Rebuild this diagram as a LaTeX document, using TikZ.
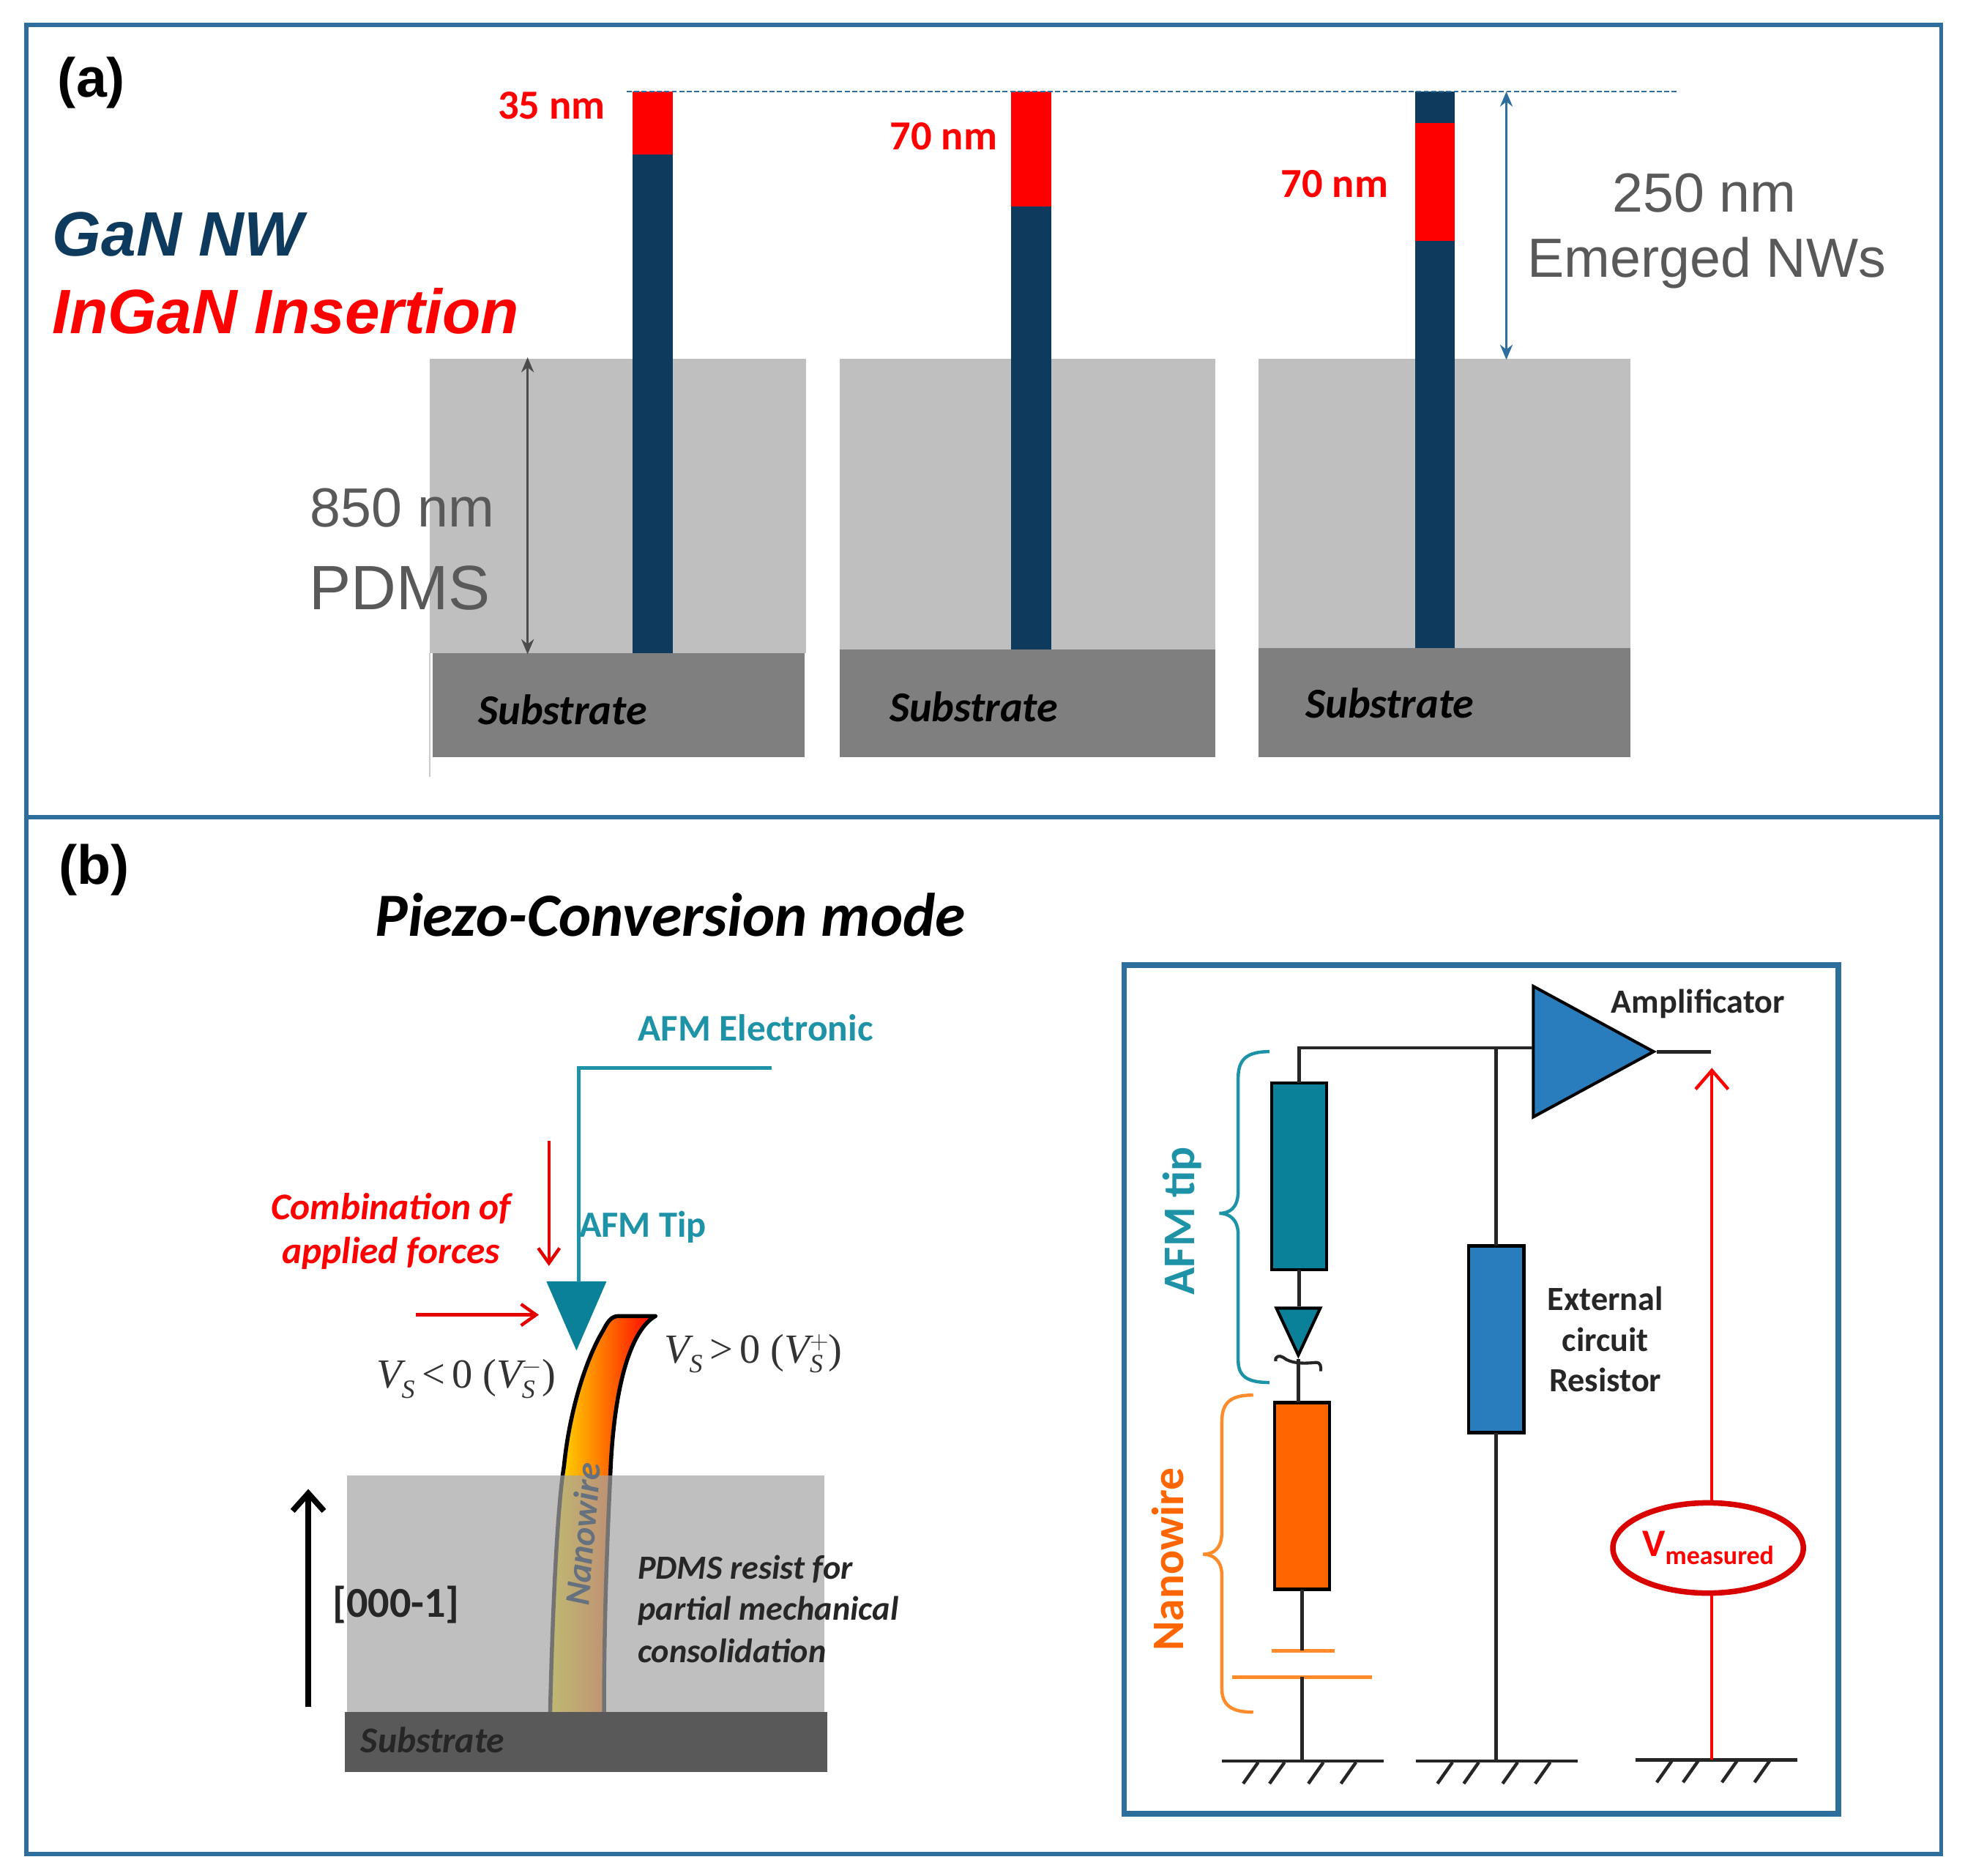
\documentclass[tikz,border=0pt]{standalone}
\usepackage{fontspec}
\setmainfont{Carlito}
\newfontfamily\arialf{Liberation Sans}
\newfontfamily\tms{Liberation Serif}
\usetikzlibrary{arrows.meta,shapes.geometric,calc}
\definecolor{frameblue}{HTML}{2E6E9C}
\definecolor{navy}{HTML}{0E3A5E}
\definecolor{pdms}{HTML}{BFBFBF}
\definecolor{pdmsa}{HTML}{A4A4A4}
\definecolor{subst}{HTML}{7F7F7F}
\definecolor{substd}{HTML}{595959}
\definecolor{teal1}{HTML}{1E93A8}
\definecolor{teal2}{HTML}{0A8199}
\definecolor{blue2}{HTML}{2A7DBD}
\definecolor{org}{HTML}{FF6600}
\definecolor{org2}{HTML}{FF8A2A}
\definecolor{txtgray}{HTML}{595959}
\definecolor{nwgray}{HTML}{66717F}
\newcommand{\fs}[1]{\fontsize{#1}{#1}\selectfont}
\newcommand{\VS}[1]{{\tms\itshape V}\rlap{\raisebox{-8pt}{\fs{21}\tms\itshape S}}\raisebox{11pt}{\fs{21}\tms #1}}
\newcommand{\VSp}{{\tms\itshape V}\raisebox{-8pt}{\fs{21}\tms\itshape S}}
\tikzset{
 x=1pt,y=-1pt,
 lab/.style={inner sep=0pt,outer sep=0pt,align=center},
 comp/.style={inner sep=0pt,outer sep=0pt,draw=black,line width=2.4pt,rectangle,minimum width=44pt,minimum height=149pt},
 wire/.style={draw=black!85,line width=2.8pt},
 dim/.style={line width=2pt,{Stealth[length=12pt,width=10pt]}-{Stealth[length=12pt,width=10pt]}},
 redar/.style={draw=red!90!black,line width=2.6pt,-{Straight Barb[length=12pt,width=17pt,line width=2.6pt]}},
 hatch/.style={line width=2.6pt,draw=black!85},
 subtxt/.style={lab,font=\bfseries\itshape\fs{34}},
}
\newcommand{\ground}[3]{%
 \draw[hatch] (#1,#2) coordinate (#3) -- ++(129,0);
 \foreach \d in {29,50,81,107}{\draw[hatch] ($(#3)+(\d,1)$) -- ++(-12,17);}
}
\begin{document}
\begin{tikzpicture}
\useasboundingbox (0,0) rectangle (1568,1496.7);
\fill[white] (0,0) rectangle (1568,1496.7);
% panel frame
\draw[frameblue,line width=3.4pt] (21,20) rectangle (1549,1479);
\draw[frameblue,line width=3.4pt] (21,652) -- (1549,652);
\node[lab,font=\arialf\bfseries\fs{44}] (a) at (73,66) {(a)};
\node[lab,font=\arialf\bfseries\fs{44}] (b) at (75,694) {(b)};
% panel a
\draw[pdms!80,line width=1pt] (343,521) -- (343,620);
\fill[pdms] (343,286) rectangle (643,521);
\fill[subst] (345,521) rectangle (642,604);
\fill[pdms] (670,286) rectangle (970,518);
\fill[subst] (670,518) rectangle (970,604);
\fill[pdms] (1004,286) rectangle (1301,517);
\fill[subst] (1004,517) rectangle (1301,604);
\fill[navy] (505,73) rectangle (537,521);
\fill[red] (505,73) rectangle (537,123);
\fill[navy] (807,73) rectangle (839,518);
\fill[red] (807,73) rectangle (839,165);
\fill[navy] (1129,73) rectangle (1161,517);
\fill[red] (1129,98) rectangle (1161,192);
\coordinate (dashL) at (500,73);
\coordinate (dashR) at (1340,73);
\draw[frameblue,line width=1.4pt,dash pattern=on 4pt off 2pt] (dashL) -- (dashR);
\coordinate (e1) at (1202,73);
\coordinate (e2) at (1202,287);
\draw[dim,frameblue] (e1) -- (e2);
\coordinate (p1) at (421,285);
\coordinate (p2) at (421,522);
\draw[dim,black!70] (p1) -- (p2);
\node[lab,anchor=west,text=navy,font=\arialf\bfseries\itshape\fs{50}] (gan) at (42,187) {GaN NW};
\node[lab,anchor=west,text=red,font=\arialf\bfseries\itshape\fs{50}] (ingan) at (42,248) {InGaN Insertion};
\node[lab,text=red,font=\bfseries\fs{33}] (n35) at (440,84) {35 nm};
\node[lab,text=red,font=\bfseries\fs{33}] (n70a) at (753,109) {70 nm};
\node[lab,text=red,font=\bfseries\fs{33}] (n70b) at (1065,147) {70 nm};
\node[lab,text=txtgray,font=\arialf\fs{44}] (e250) at (1360,154) {250 nm};
\node[lab,text=txtgray,font=\arialf\fs{44}] (eNW) at (1362,210) {Emerged NWs};
\node[lab,text=txtgray,font=\arialf\fs{44}] (p850) at (321,405) {850 nm};
\node[lab,text=txtgray,font=\arialf\fs{50}] (pPD) at (319,469) {PDMS};
\node[subtxt] (s1) at (449,566) {Substrate};
\node[subtxt] (s2) at (777,564) {Substrate};
\node[subtxt] (s3) at (1109,561) {Substrate};
% panel b left
\node[lab,font=\bfseries\itshape\fs{49}] (title) at (535,730) {Piezo-Conversion mode};
\node[lab,text=teal1,font=\bfseries\fs{30}] (afme) at (603,820) {AFM Electronic};
\node[lab,text=teal1,font=\bfseries\fs{29.5}] (afmt) at (513,979) {AFM Tip};
\node[lab,text=red,font=\bfseries\itshape\fs{30}] (comb) at (312,964) {Combination of};
\node[lab,text=red,font=\bfseries\itshape\fs{30}] (forc) at (312,1000) {applied forces};
% nanowire
\shade[left color=yellow!85!orange,middle color=orange,right color=red]
 (481,1062) .. controls (486,1052) and (489,1050) .. (494,1050) -- (523,1050)
 .. controls (505,1060) and (490,1100) .. (487,1177) .. controls (484,1240) and (482,1300) .. (482,1366)
 -- (439,1366) .. controls (441,1280) and (445,1200) .. (450,1170) .. controls (455,1120) and (470,1080) .. (481,1062) -- cycle;
\draw[black,line width=3.2pt,line join=round]
 (439,1366) .. controls (441,1280) and (445,1200) .. (450,1170) .. controls (455,1120) and (470,1080) .. (481,1062)
 .. controls (486,1052) and (489,1050) .. (494,1050) -- (523,1050)
 .. controls (505,1060) and (490,1100) .. (487,1177) .. controls (484,1240) and (482,1300) .. (482,1366);
% PDMS block
\fill[pdmsa,fill opacity=.7] (277,1177) rectangle (658,1366);
\fill[substd] (275,1366) rectangle (660,1414);
\node[lab,anchor=west,font=\bfseries\itshape\fs{29},text=black!85] (s4) at (288,1388) {Substrate};
\node[lab,rotate=85,text=nwgray,font=\bfseries\itshape\fs{28}] (nwl) at (465,1224) {Nanowire};
\node[lab,anchor=west,text=black!85,font=\bfseries\itshape\fs{27}] (pr1) at (509,1252) {PDMS resist for};
\node[lab,anchor=west,text=black!85,font=\bfseries\itshape\fs{27}] (pr2) at (509,1285) {partial mechanical};
\node[lab,anchor=west,text=black!85,font=\bfseries\itshape\fs{27}] (pr3) at (509,1317) {consolidation};
\node[lab,text=black!85,font=\bfseries\fs{34}] (dir) at (316,1280) {[000-1]};
\coordinate (d1) at (246,1362);
\coordinate (d2) at (246,1188);
\draw[black,line width=4.6pt,-{Straight Barb[length=14pt,width=25pt,line width=4.6pt]}] (d1) -- (d2);
% AFM tip
\node[draw=none,fill=teal2,isosceles triangle,isosceles triangle apex angle=47,shape border rotate=-90,inner sep=0pt,minimum height=55pt,minimum width=48pt,anchor=apex] (tip) at (460,1078) {};
\coordinate (el) at (616,852);
\draw[teal1,line width=2.8pt] (el) -- (462,852) -- (462,1023);
\coordinate (f1) at (438,910);
\coordinate (f2) at (438,1010);
\draw[redar] (f1) -- (f2);
\coordinate (f3) at (332,1049);
\coordinate (f4) at (430,1049);
\draw[redar] (f3) -- (f4);
\node[lab,text=black!80,font=\tms\fs{33}] (vm) at (372,1100) {\VSp\,{<}\,0 (\VS{$-$})};
\node[lab,text=black!80,font=\tms\fs{33}] (vp) at (601,1080) {\VSp\,{>}\,0 (\VS{$+$})};
% circuit box
\draw[frameblue,line width=4.4pt] (897,770) rectangle (1467,1447);
\node[comp,fill=teal2] (r1) at (1036.5,938.5) {};
\node[comp,fill=blue2] (r2) at (1194,1068.5) {};
\node[comp,fill=org] (r3) at (1039,1193.5) {};
\node[draw=black,line width=2.4pt,fill=blue2,isosceles triangle,isosceles triangle apex angle=57,inner sep=0pt,minimum height=96pt,minimum width=103pt,anchor=apex] (amp) at (1322,839) {};
\node[draw=black,line width=2.4pt,fill=teal2,isosceles triangle,isosceles triangle apex angle=50,shape border rotate=-90,inner sep=0pt,minimum height=37pt,minimum width=35pt,anchor=apex] (dio) at (1036,1084) {};
\coordinate (junc) at (1194,836);
\coordinate (ampin) at (1223,836);
\coordinate (out) at (1365,839);
\draw[wire] (r1.north) -- (1036.5,836) -- (ampin);
\draw[wire] (junc) -- (r2.north);
\draw[wire] (amp.apex) -- (out);
\draw[wire] (r1.south) -- (dio.north -| r1.south);
\draw[wire] (dio.apex) -- (1036,1119);
\draw[wire,line width=2.4pt] (1018,1086) .. controls (1017,1082) and (1021,1081) .. (1024,1083) .. controls (1030,1088) and (1040,1088) .. (1050,1087) .. controls (1054,1087) and (1054,1090) .. (1054,1094);
\draw[org2,line width=2.8pt] (1015,1317) coordinate (c1a) -- (1065,1317) coordinate (c1b);
\draw[org2,line width=2.8pt] (983,1338) coordinate (c2a) -- (1095,1338) coordinate (c2b);
\coordinate (c1) at (1039,1317);
\coordinate (c2) at (1039,1338);
\draw[wire] (r3.south) -- (c1);
\ground{975}{1405}{g1}
\ground{1130}{1405}{g2}
\ground{1305}{1404}{g3}
\draw[wire] (c2) -- ($(g1)+(64,0)$);
\draw[wire] (r2.south) -- ($(g2)+(64,0)$);
\node[draw=red!85!black,line width=4.4pt,ellipse,minimum width=152pt,minimum height=72pt,inner sep=0pt,text=red,font=\bfseries] (vmeas) at (1363,1235) {\raisebox{-3pt}{\fs{31}V\raisebox{-6pt}{\fs{21}measured}}};
\coordinate (va) at (1366,852);
\draw[draw=red,line width=2.6pt] ($(g3)+(61,0)$) -- (vmeas.south -| va);
\draw[draw=red,line width=2.6pt,-{Straight Barb[length=15pt,width=26pt,line width=2.6pt]}] (vmeas.north -| va) -- (va);
\node[lab,text=black!85,font=\bfseries\fs{27}] (ampl) at (1355,801) {Amplificator};
\node[lab,text=black!85,font=\bfseries\fs{27}] (ext) at (1281,1036) {External};
\node[lab,text=black!85,font=\bfseries\fs{27}] (cir) at (1281,1069) {circuit};
\node[lab,text=black!85,font=\bfseries\fs{27}] (res) at (1281,1101) {Resistor};
% braces
\draw[teal1,line width=2.6pt] (1013,839) .. controls (995,839) and (988,845) .. (988,860) -- (988,950) .. controls (988,965) and (980,968) .. (973,968) .. controls (980,968) and (988,972) .. (988,985) -- (988,1085) .. controls (988,1098) and (995,1103) .. (1013,1103);
\draw[org2,line width=2.6pt] (1000,1113) .. controls (982,1113) and (975,1119) .. (975,1134) -- (975,1222) .. controls (975,1237) and (967,1240) .. (960,1240) .. controls (967,1240) and (975,1244) .. (975,1257) -- (975,1347) .. controls (975,1360) and (982,1366) .. (1000,1366);
\node[lab,rotate=90,text=teal1,font=\bfseries\fs{36}] (ta) at (943,974) {AFM tip};
\node[lab,rotate=90,text=org,font=\bfseries\fs{36}] (tn) at (932,1244) {Nanowire};
\end{tikzpicture}
\end{document}
